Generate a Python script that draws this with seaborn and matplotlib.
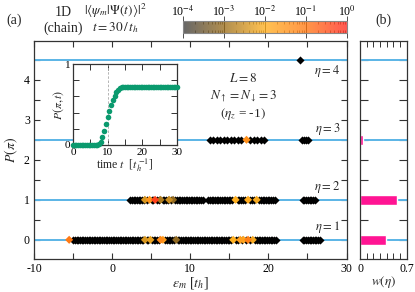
import numpy as np
import pandas as pd
import matplotlib
matplotlib.use("Agg")
import matplotlib.pyplot as plt
import seaborn as sns
from matplotlib.colors import LinearSegmentedColormap, LogNorm
from matplotlib.cm import ScalarMappable
from matplotlib.ticker import MultipleLocator, FixedLocator

# ---------------- data ----------------
# eta sector -> vertical position P(pi)
eta_labels = ["η=1", "η=2", "η=3", "η=4"]
eta_pos = [0.0, 1.0, 2.5, 4.5]

# eigen-energies (black = overlap below 1e-4)
E_eta1 = [-5.0, -4.8, -4.55, -4.35, -4.1, -3.9, -3.7, -3.45, -3.25, -3.0, -2.8,
          -2.6, -2.35, -2.15, -1.9, -1.7, -1.5, -1.25, -1.05, -0.8, -0.6, -0.4,
          -0.15, 0.05, 0.3, 0.5, 0.7, 0.95, 1.15, 1.4, 1.6, 1.8, 2.05, 2.25, 2.5,
          2.7, 2.9, 3.15, 3.35, 3.6, 3.8, 4.0, 4.45, 4.65, 5.1, 5.3, 5.55, 5.75,
          5.95, 6.8, 7.0, 7.25, 7.45, 7.7, 7.9, 8.4, 8.6, 8.85, 9.05, 9.3, 9.5,
          9.7, 9.95, 10.15, 10.4, 10.6, 10.8, 11.05, 11.25, 11.5, 11.7, 11.9,
          12.15, 12.35, 12.6, 12.8, 13.0, 13.25, 13.45, 13.7, 13.9, 14.1, 14.35,
          14.55, 14.8, 15.0, 15.2, 15.8, 16.1, 16.6, 17.1, 17.7, 18.3, 18.5,
          18.75, 18.95, 19.2, 19.4, 19.6, 19.85, 20.05, 20.3, 20.5, 20.7, 20.95,
          24.4, 24.6, 24.85, 25.05, 25.3, 25.5, 25.7, 25.95, 26.15, 26.4, 26.6]
E_eta2 = [2.3, 2.5, 2.75, 2.95, 3.2, 3.4, 3.6, 3.85, 4.05, 4.45, 5.05, 5.25,
          5.75, 5.95, 6.45, 6.65, 6.9, 7.1, 7.55, 8.05, 8.25, 8.5, 8.7, 8.95,
          9.15, 9.4, 9.6, 9.8, 10.05, 10.25, 10.5, 10.7, 10.9, 11.15, 11.35, 11.6,
          12.3, 12.5, 12.75, 12.95, 13.2, 13.4, 13.6, 13.85, 14.05, 14.3, 14.5,
          14.7, 14.95, 15.15, 15.4, 16.1, 16.3, 16.55, 16.8, 17.05, 17.7, 17.95,
          18.2, 18.8, 19.0, 19.25, 19.45, 19.7, 19.9, 20.1, 20.35, 20.55, 20.8,
          24.4, 24.6, 24.85, 25.05, 25.3, 25.5, 25.75, 25.95]
E_eta3 = [12.5, 12.95, 13.4, 13.85, 14.3, 14.75, 15.2, 15.65, 16.1, 16.55,
          17.65, 18.1, 18.55, 19.0, 19.45,
          24.3, 24.55, 24.8, 25.05]
E_eta4 = [24.1]

# eigen-states with visible overlap |<psi_m|Psi(t)>|^2
col_E = [-5.5, 4.2, 4.9, 6.2, 6.5, 8.2, 15.5, 16.4, 16.8, 17.4, 18.0,
         4.2, 4.8, 5.5, 6.2, 7.3, 7.8, 15.8, 17.4, 18.5,
         17.2]
col_P = [0.0, 0.0, 0.0, 0.0, 0.0, 0.0, 0.0, 0.0, 0.0, 0.0, 0.0,
         1.0, 1.0, 1.0, 1.0, 1.0, 1.0, 1.0, 1.0, 1.0,
         2.5]
col_w = [0.1, 0.004, 0.006, 0.05, 0.02, 0.0008, 0.01, 0.02, 0.015, 0.08, 0.008,
         0.004, 0.03, 0.5, 0.0015, 0.003, 0.0008, 0.01, 0.012, 0.008,
         0.04]

# panel (b): weights w(eta)
w_eta = [0.385, 0.56, 0.05, 0.0]

# inset: P(pi, t)
t_vals = [0.0, 0.5, 1.0, 1.5, 2.0, 2.5, 3.0, 3.5, 4.0, 4.5, 5.0, 5.5, 6.0, 6.5,
          7.0, 7.5, 8.0, 8.5, 9.0, 9.5, 10.0, 10.5, 11.0, 11.5, 12.0, 12.5, 13.0,
          13.5, 14.0, 14.5, 15.0, 15.5, 16.0, 16.5, 17.0, 17.5, 18.0, 18.5, 19.0,
          19.5, 20.0, 20.5, 21.0, 21.5, 22.0, 22.5, 23.0, 23.5, 24.0, 24.5, 25.0,
          25.5, 26.0, 26.5, 27.0, 27.5, 28.0, 28.5, 29.0, 29.5, 30.0]
P_vals = [0, 0, 0, 0, 0, 0, 0, 0, 0, 0, 0, 0, 0, 0,
          0.0, 0.01, 0.04, 0.10, 0.17, 0.26, 0.35, 0.42, 0.49, 0.55, 0.61, 0.65,
          0.68, 0.70, 0.71, 0.71, 0.71, 0.71, 0.71, 0.71, 0.71, 0.71, 0.71, 0.71,
          0.71, 0.71, 0.71, 0.71, 0.71, 0.71, 0.71, 0.71, 0.71, 0.71, 0.71, 0.71,
          0.71, 0.71, 0.71, 0.71, 0.71, 0.71, 0.71, 0.71, 0.71, 0.71, 0.71]

# ---------------- style ----------------
sns.set_theme(style="ticks")
plt.rcParams["font.family"] = ["Liberation Serif", "DejaVu Serif"]
plt.rcParams["mathtext.fontset"] = "stix"
plt.rcParams["axes.unicode_minus"] = False
plt.rcParams["axes.linewidth"] = 0.9
plt.rcParams["axes.edgecolor"] = "#333333"

cmap = LinearSegmentedColormap.from_list(
    "ovl", [(0.0, "#3c3c3c"), (0.25, "#9a6e1e"), (0.5, "#ffb020"),
            (0.75, "#ff7a14"), (1.0, "#ff2a20")])
norm = LogNorm(1e-4, 1.0)
blue = "#5ab4e6"
pink = "#ff1493"

fig = plt.figure(figsize=(4.15, 2.92), dpi=100)
W, H = 415.0, 292.0
ax = fig.add_axes([34 / W, 33 / H, 312.5 / W, 218 / H])
axb = fig.add_axes([360 / W, 33 / H, 46.7 / W, 218 / H])
axi = fig.add_axes([73 / W, (292 - 145) / H, 104 / W, 81 / H])
cax = fig.add_axes([183 / W, (292 - 33) / H, 163.7 / W, 12 / H])

# ---------------- main panel ----------------
for p in eta_pos:
    ax.axhline(p, color=blue, lw=1.4, zorder=1)
    axb.axhline(p, color=blue, lw=1.4, zorder=1)

black_df = pd.DataFrame({
    "E": E_eta1 + E_eta2 + E_eta3 + E_eta4,
    "P": [eta_pos[0]] * len(E_eta1) + [eta_pos[1]] * len(E_eta2)
         + [eta_pos[2]] * len(E_eta3) + [eta_pos[3]] * len(E_eta4),
})
MS = 17
sns.scatterplot(data=black_df, x="E", y="P", color="black", marker="D", s=MS,
                linewidth=0, ax=ax, zorder=3, legend=False)

col_df = pd.DataFrame({"E": col_E, "P": col_P, "w": col_w}).sort_values("w")
sns.scatterplot(data=col_df, x="E", y="P", hue="w", palette=cmap, hue_norm=norm,
                marker="D", s=MS, linewidth=0, ax=ax, zorder=4, legend=False)

ax.set_xlim(-10, 30)
ax.set_ylim(-0.48, 4.97)
ax.xaxis.set_major_locator(MultipleLocator(10))
ax.xaxis.set_minor_locator(MultipleLocator(5))
ax.yaxis.set_major_locator(MultipleLocator(1))
ax.yaxis.set_minor_locator(MultipleLocator(0.5))
ax.tick_params(which="both", direction="in", top=True, right=True, length=4.5,
               width=0.8, labelsize=8.5, pad=3, colors="#333333",
               labelcolor="black")
ax.set_xlabel(r"$\varepsilon_m$ [$t_h$]", fontsize=10, labelpad=0)
ax.set_ylabel(r"$P(\pi)$", fontsize=10, labelpad=3)

ann_y = [0.33, 1.32, 2.77, 4.21]
for lab, yy in zip(eta_labels, ann_y):
    ax.text(29.2, yy, r"$\eta = %s$" % lab[-1], ha="right", va="center",
            fontsize=9)

ax.text(16.8, 4.02, r"$L = 8$", ha="center", va="center", fontsize=9.5)
ax.text(16.8, 3.58, r"$N_\uparrow = N_\downarrow = 3$", ha="center",
        va="center", fontsize=9.5)
ax.text(16.8, 3.15, r"$(\eta_z$ = -1$)$", ha="center", va="center",
        fontsize=9.5)

# ---------------- panel (b) ----------------
axb.barh(eta_pos, w_eta, height=0.25, color=pink, zorder=2)
axb.set_xlim(0, 0.7)
axb.set_ylim(-0.48, 4.97)
axb.xaxis.set_major_locator(FixedLocator([0, 0.7]))
axb.xaxis.set_minor_locator(MultipleLocator(0.1))
axb.yaxis.set_major_locator(MultipleLocator(0.5))
axb.set_yticklabels([])
axb.set_xticklabels(["0", "0.7"])
axb.tick_params(which="both", direction="in", top=True, right=True,
                labelsize=8.5, pad=3, colors="#333333", labelcolor="black")
axb.tick_params(axis="x", which="both", length=4, width=0.7)
axb.tick_params(axis="y", which="both", length=6, width=0.8)
axb.set_xlabel(r"$w(\eta)$", fontsize=9.5, labelpad=-1)

# ---------------- inset ----------------
axi.set_facecolor("white")
axi.set_zorder(5)
axi.axvline(10, color="#aaaaaa", lw=0.6, ls=(0, (3, 2)), zorder=1)
ins_df = pd.DataFrame({"t": t_vals, "P": P_vals})
sns.scatterplot(data=ins_df, x="t", y="P", color="#0a9a6e", s=16, linewidth=0,
                ax=axi, zorder=3, legend=False, clip_on=False)
axi.set_xlim(0, 30)
axi.set_ylim(0, 1)
axi.xaxis.set_major_locator(MultipleLocator(10))
axi.xaxis.set_minor_locator(MultipleLocator(5))
axi.yaxis.set_major_locator(MultipleLocator(1))
axi.yaxis.set_minor_locator(MultipleLocator(0.2))
axi.tick_params(which="both", direction="in", top=True, right=True, length=4,
                width=0.7, labelsize=8, pad=2, colors="#333333",
                labelcolor="black")
axi.set_xlabel(r"time $t$  [$t_h^{\,\mathrm{-1}}$]", fontsize=8.5, labelpad=0)
axi.set_ylabel(r"$P(\pi,t)$", fontsize=8.5, labelpad=-1)

# ---------------- colorbar ----------------
sm = ScalarMappable(norm=norm, cmap=cmap)
cb = fig.colorbar(sm, cax=cax, orientation="horizontal", alpha=0.78)
cb.outline.set_edgecolor("#888888")
cb.outline.set_linewidth(0.8)
cax.xaxis.set_ticks_position("both")
cax.xaxis.set_label_position("top")
cax.tick_params(axis="x", which="minor", direction="in", length=2.5, width=0.5,
                colors="#333333", top=True, bottom=True)
cax.tick_params(axis="x", which="major", direction="in", length=12, width=0.6,
                colors="#333333", labeltop=True, labelbottom=False,
                labelsize=8.5, labelcolor="black", pad=1.5)
cb.set_ticks([1e-4, 1e-3, 1e-2, 1e-1, 1e0])
cb.set_ticklabels([r"10$^{\mathrm{-4}}$", r"10$^{\mathrm{-3}}$",
                   r"10$^{\mathrm{-2}}$", r"10$^{\mathrm{-1}}$", r"10$^0$"])

# ---------------- header texts ----------------
fig.text(14 / W, 1 - 20 / H, "(a)", ha="center", va="center", fontsize=10)
fig.text(63 / W, 1 - 12 / H, "1D", ha="center", va="center", fontsize=10)
fig.text(63 / W, 1 - 28 / H, "(chain)", ha="center", va="center", fontsize=10)
fig.text(115 / W, 1 - 11 / H, r"$|\langle\psi_m|\Psi(t)\rangle|^2$",
         ha="center", va="center", fontsize=9.5)
fig.text(115 / W, 1 - 28 / H, r"$t = 30\,/\,t_h$", ha="center", va="center",
         fontsize=9.5)
fig.text(383 / W, 1 - 20 / H, "(b)", ha="center", va="center", fontsize=10)

fig.savefig("out.png", dpi=100)
